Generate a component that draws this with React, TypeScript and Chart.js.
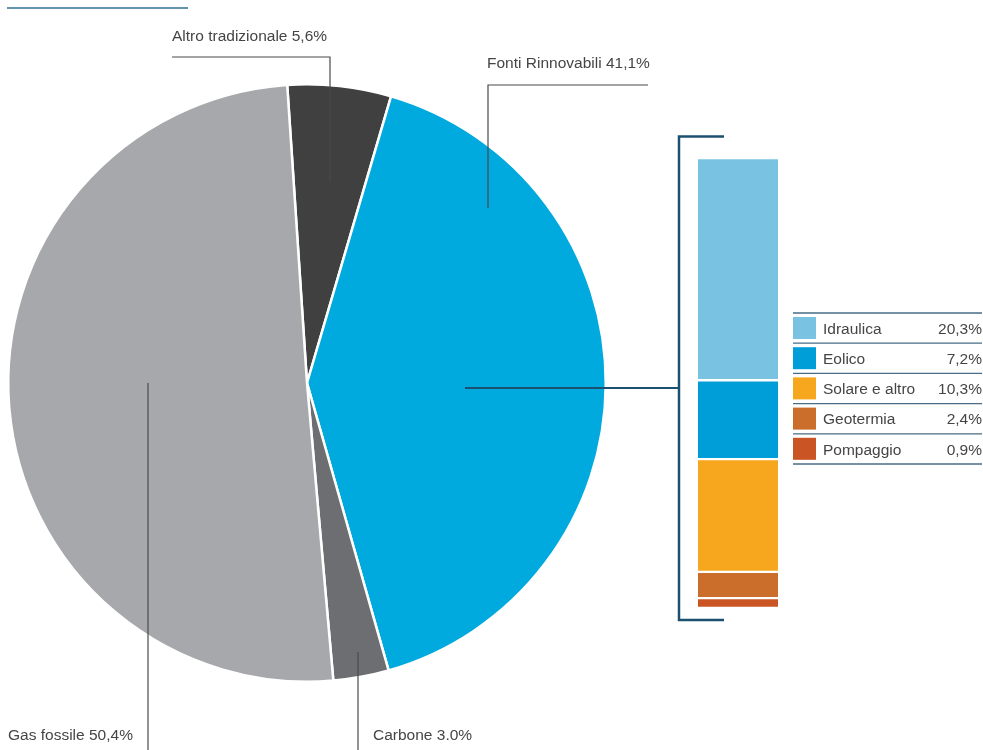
import React, { useEffect, useRef } from "react";
import { Chart, registerables } from "chart.js";

Chart.register(...registerables);

// ---- data ----
const pieLabels = ["Altro tradizionale", "Fonti Rinnovabili", "Carbone", "Gas fossile"];
const pieValues = [5.6, 41.1, 3.0, 50.4];
const pieValueText = ["5,6%", "41,1%", "3.0%", "50,4%"];
const pieColors = ["#404041", "#00A9DE", "#6D6E71", "#A7A8AB"];

const renewLabels = ["Idraulica", "Eolico", "Solare e altro", "Geotermia", "Pompaggio"];
const renewValues = [20.3, 7.2, 10.3, 2.4, 0.9];
const renewValueText = ["20,3%", "7,2%", "10,3%", "2,4%", "0,9%"];
const renewColors = ["#7AC2E2", "#009ED9", "#F7A71E", "#CB6D2B", "#CB5424"];

// ---- layout ----
const W = 983;
const H = 750;
const FONT = "'Liberation Sans', Arial, Helvetica, sans-serif";
const TEXT_COLOR = "#454545";
const LEADER = "#4a4a4a";
const NAVY = "#1C5070";

const pieBox = { left: 7, top: 83, size: 600 };
const barBox = { left: 698, top: 158, width: 80, height: 450 };
const legendBox = { left: 793, right: 982, top: 313, row: 30.2 };

const annotations = {
  // label position (x, baseline) and leader polyline
  labels: [
    { x: 172, base: 41, line: [[172, 57], [330, 57], [330, 182]] },
    { x: 487, base: 68, line: [[648, 85], [488, 85], [488, 208]] },
    { x: 373, base: 740, line: [[358, 652], [358, 750]] },
    { x: 8, base: 740, line: [[148, 383], [148, 750]] },
  ],
  connector: [[465, 388], [679, 388]],
  bracket: [[724, 136.5], [679, 136.5], [679, 620], [724, 620]],
  topRule: [[7, 8], [188, 8]],
};

function strokePath(ctx: CanvasRenderingContext2D, pts: number[][], color: string, width: number) {
  ctx.save();
  ctx.strokeStyle = color;
  ctx.lineWidth = width;
  ctx.lineJoin = "miter";
  ctx.lineCap = "butt";
  ctx.beginPath();
  pts.forEach((p, i) => (i === 0 ? ctx.moveTo(p[0], p[1]) : ctx.lineTo(p[0], p[1])));
  ctx.stroke();
  ctx.restore();
}

const overlayPlugin = {
  id: "overlay",
  afterDraw(chart: any) {
    const ctx: CanvasRenderingContext2D = chart.ctx;
    annotations.labels.forEach((l) => strokePath(ctx, l.line, LEADER, 1.2));
    strokePath(ctx, annotations.connector, NAVY, 2);
    strokePath(ctx, annotations.bracket, NAVY, 2.5);
    strokePath(ctx, annotations.topRule, "#2F6E95", 1.5);
    // legend rules
    for (let i = 0; i <= renewLabels.length; i++) {
      const y = legendBox.top + legendBox.row * i;
      strokePath(ctx, [[legendBox.left, y], [legendBox.right, y]], "#4A6C86", 1.3);
    }
    // legend swatches
    renewColors.forEach((c, i) => {
      const y = legendBox.top + legendBox.row * i;
      ctx.save();
      ctx.fillStyle = c;
      ctx.fillRect(legendBox.left, y + 4, 23, 22);
      ctx.restore();
    });
  },
};

export default function App() {
  const pieRef = useRef<HTMLCanvasElement>(null);
  const barRef = useRef<HTMLCanvasElement>(null);

  useEffect(() => {
    const pie = new Chart(pieRef.current!, {
      type: "pie",
      data: {
        labels: pieLabels,
        datasets: [
          {
            data: pieValues,
            backgroundColor: pieColors,
            borderColor: "#ffffff",
            borderWidth: 2.5,
            hoverOffset: 0,
          },
        ],
      },
      options: {
        responsive: false,
        animation: false,
        rotation: -3.8,
        layout: {
          padding: {
            left: pieBox.left,
            top: pieBox.top,
            right: W - pieBox.left - pieBox.size,
            bottom: H - pieBox.top - pieBox.size,
          },
        },
        plugins: { legend: { display: false }, tooltip: { enabled: false } },
        events: [],
      },
      plugins: [overlayPlugin],
    });

    const order = renewLabels.map((_, i) => i).reverse();
    const bar = new Chart(barRef.current!, {
      type: "bar",
      data: {
        labels: ["Fonti Rinnovabili"],
        datasets: order.map((i) => ({
          label: renewLabels[i],
          data: [renewValues[i]],
          backgroundColor: renewColors[i],
          borderColor: "#ffffff",
          borderWidth: { top: 1.5, bottom: 1.5, left: 0, right: 0 },
          borderSkipped: false,
          barPercentage: 1,
          categoryPercentage: 1,
        })),
      },
      options: {
        responsive: false,
        animation: false,
        layout: { padding: 0 },
        scales: {
          x: { display: false, stacked: true },
          y: {
            display: false,
            stacked: true,
            min: 0,
            max: renewValues.reduce((a, b) => a + b, 0),
          },
        },
        plugins: { legend: { display: false }, tooltip: { enabled: false } },
        events: [],
      },
    });

    return () => {
      pie.destroy();
      bar.destroy();
    };
  }, []);

  const textStyle = (x: number, base: number, extra: any = {}) => ({
    position: "absolute" as const,
    left: x,
    top: base - 15.3,
    fontFamily: FONT,
    fontSize: 15.5,
    lineHeight: "20px",
    color: TEXT_COLOR,
    whiteSpace: "nowrap" as const,
    ...extra,
  });

  return (
    <div style={{ position: "absolute", left: 0, top: 0, width: W, height: H, background: "#fff", overflow: "hidden" }}>
      <canvas ref={pieRef} width={W} height={H} style={{ position: "absolute", left: 0, top: 0 }} />
      <canvas
        ref={barRef}
        width={barBox.width}
        height={barBox.height}
        style={{ position: "absolute", left: barBox.left, top: barBox.top }}
      />
      {annotations.labels.map((l, i) => (
        <div key={"pl" + i} style={textStyle(l.x, l.base)}>
          {pieLabels[i] + " " + pieValueText[i]}
        </div>
      ))}
      {renewLabels.map((lab, i) => {
        const base = legendBox.top + legendBox.row * i + 21;
        return (
          <React.Fragment key={"lg" + i}>
            <div style={textStyle(823, base)}>{lab}</div>
            <div style={textStyle(legendBox.right - 90, base, { width: 90, textAlign: "right" })}>
              {renewValueText[i]}
            </div>
          </React.Fragment>
        );
      })}
    </div>
  );
}
